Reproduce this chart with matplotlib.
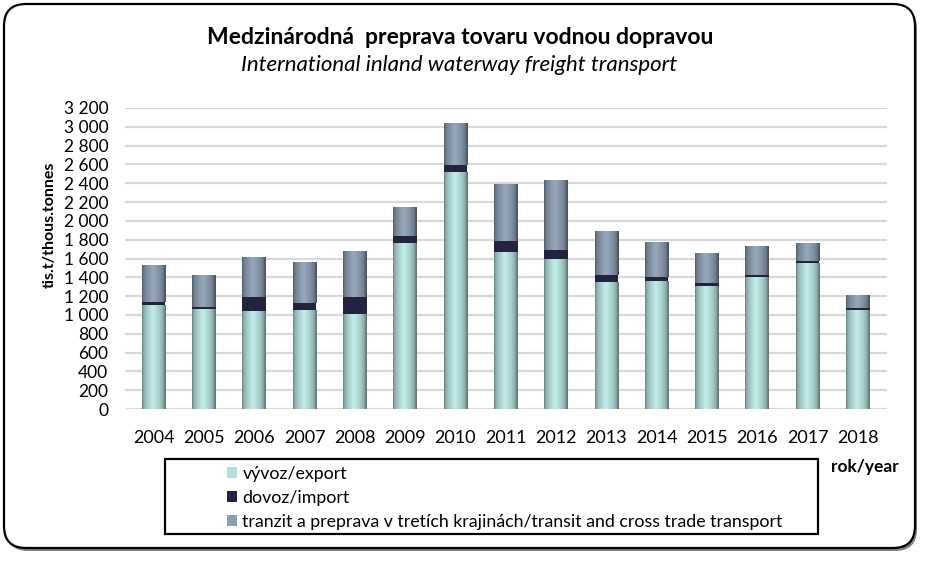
import numpy as np
import matplotlib.pyplot as plt
from matplotlib.patches import FancyBboxPatch, Rectangle
from matplotlib.colors import to_rgb

plt.rcParams['font.family'] = ['Lato', 'DejaVu Sans']

# values (thous. tonnes)
years = ['2004', '2005', '2006', '2007', '2008', '2009', '2010', '2011',
         '2012', '2013', '2014', '2015', '2016', '2017', '2018']
export = [1110, 1060, 1045, 1050, 1013, 1768, 2520, 1672, 1591, 1355, 1361, 1311, 1400, 1549, 1056]
imports = [25, 22, 142, 80, 181, 74, 75, 117, 96, 66, 42, 32, 28, 24, 18]
transit = [393, 342, 430, 433, 486, 302, 443, 606, 747, 471, 372, 315, 305, 188, 134]

labels = ['vývoz/export', 'dovoz/import',
          'tranzit a preprava v tretích krajinách/transit and cross trade transport']
colors = ['#b4dedb', '#24233f', '#8c9db0']

W, H = 928, 563
fig = plt.figure(figsize=(W / 100, H / 100), dpi=100)
fig.patch.set_facecolor('white')

# rounded frame with a small shadow
shadow = FancyBboxPatch((6 / 100, (H - 551) / 100), 911 / 100, 544 / 100,
                        boxstyle='round,pad=0,rounding_size=0.22',
                        transform=fig.dpi_scale_trans, facecolor='#7f7f7f',
                        edgecolor='none', zorder=0)
frame = FancyBboxPatch((4 / 100, (H - 548) / 100), 911 / 100, 544 / 100,
                       boxstyle='round,pad=0,rounding_size=0.22',
                       transform=fig.dpi_scale_trans, facecolor='white',
                       edgecolor='black', linewidth=1.6, zorder=1)
fig.patches.extend([shadow, frame])

ax = fig.add_axes([125 / W, 1 - 409 / H, (887 - 125) / W, (409 - 108) / H])
ax.set_facecolor('none')
ax.set_zorder(2)

x = np.arange(len(years))
bw = 0.47
b1 = ax.bar(x, export, bw, color=colors[0], label=labels[0], zorder=3)
b2 = ax.bar(x, imports, bw, bottom=export, color=colors[1], label=labels[1], zorder=3)
bottom2 = np.array(export) + np.array(imports)
b3 = ax.bar(x, transit, bw, bottom=bottom2, color=colors[2], label=labels[2], zorder=3)


# cylinder-like shading across each bar
def shade(bars, col):
    base = np.array(to_rgb(col))
    t = np.linspace(0, 1, 64)
    f = 0.55 + 0.45 * np.sin(np.pi * np.clip(t * 1.05, 0, 1)) ** 0.5
    f = f + 0.06 * np.exp(-((t - 0.45) / 0.12) ** 2)
    rgb = np.clip(base[None, :] * f[:, None], 0, 1)
    img = rgb[None, :, :]
    for b in bars:
        x0, y0 = b.get_x(), b.get_y()
        im = ax.imshow(img, extent=(x0, x0 + b.get_width(), y0, y0 + b.get_height()),
                       aspect='auto', zorder=3.5, interpolation='bilinear')
        im.set_clip_path(b)


shade(b1, colors[0])
shade(b3, colors[2])

ax.set_xlim(-0.57, 14.58)
ax.set_ylim(0, 3200)
ax.set_yticks(np.arange(0, 3201, 200))
ax.set_yticklabels([f'{v:,}'.replace(',', ' ') for v in range(0, 3201, 200)], fontsize=12.5)
ax.set_xticks(x)
ax.set_xticklabels(years, fontsize=13)
ax.tick_params(axis='both', length=0)
ax.tick_params(axis='y', pad=12)
ax.tick_params(axis='x', pad=15)
ax.grid(axis='y', color='#d9d9d9', linewidth=1.6, zorder=0)
ax.set_axisbelow(True)
for s in ax.spines.values():
    s.set_visible(False)

fig.text(50 / W, 1 - 225 / H, 'tis.t/thous.tonnes', rotation=90, ha='center',
         va='center', fontsize=11.5, fontweight='bold')

fig.text(460 / W, 1 - 37 / H, 'Medzinárodná  preprava tovaru vodnou dopravou',
         ha='center', va='center', fontsize=16.5, fontweight='bold')
fig.text(459 / W, 1 - 65 / H, 'International inland waterway freight transport',
         ha='center', va='center', fontsize=16, style='italic')
fig.text(865 / W, 1 - 467 / H, 'rok/year', ha='center', va='center',
         fontsize=12.5, fontweight='bold')

# legend box
fig.patches.append(Rectangle((165 / W, 1 - 534 / H), (818 - 165) / W, (534 - 459) / H,
                             transform=fig.transFigure, facecolor='white',
                             edgecolor='black', linewidth=1.6, zorder=2))
leg = fig.legend(handles=[b1, b2, b3], labels=labels, loc='upper left',
                 bbox_to_anchor=(220 / W, 1 - 459 / H), frameon=False,
                 fontsize=12.8, handlelength=0.56, handleheight=0.56,
                 handletextpad=0.3, labelspacing=0.45, borderaxespad=0)
leg.set_zorder(3)

fig.savefig('out.png', dpi=100)
